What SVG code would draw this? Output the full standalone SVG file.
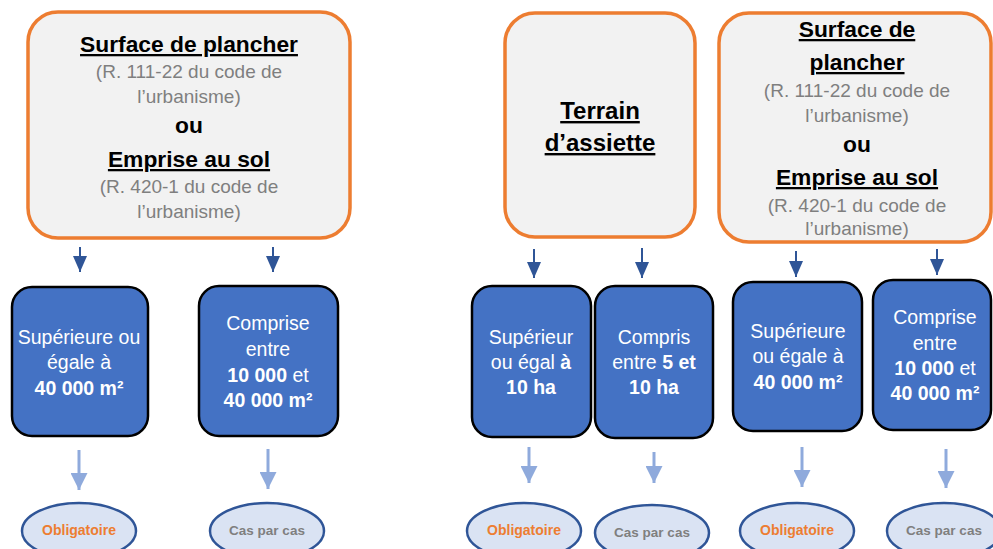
<svg xmlns="http://www.w3.org/2000/svg" width="993" height="549" viewBox="0 0 993 549">
<defs>
<style>
text{font-family:"Liberation Sans",Arial,sans-serif;text-anchor:middle}
.src{fill:#F2F2F2;stroke:#ED7D31;stroke-width:3.5}
.crit{fill:#4472C4;stroke:#000;stroke-width:2.5}
.res{fill:#DAE3F3;stroke:#2F5597;stroke-width:2.5}
.ttl{font-size:22.8px;font-weight:bold;fill:#000;text-decoration:underline}
.ou{font-size:22.8px;font-weight:bold;fill:#000}
.gry{font-size:19px;fill:#7F7F7F}
.wt{font-size:19.5px;fill:#fff}
.b{font-weight:bold}
.obl{font-size:14px;font-weight:bold;fill:#ED7D31}
.cpc{font-size:13.5px;font-weight:bold;fill:#7F7F7F}
.dk{stroke:#2F5597;stroke-width:2;fill:none}
.lt{stroke:#8FAADC;stroke-width:3;fill:none}
</style>
<marker id="ad" markerUnits="userSpaceOnUse" markerWidth="16" markerHeight="14" refX="16" refY="7" orient="auto" viewBox="0 0 16 14">
<path d="M0,0 L16,7 L0,14 Z" fill="#2F5597"/>
</marker>
<marker id="al" markerUnits="userSpaceOnUse" markerWidth="17" markerHeight="17" refX="17" refY="8.5" orient="auto" viewBox="0 0 17 17">
<path d="M0,0 L17,8.5 L0,17 Z" fill="#8FAADC"/>
</marker>
</defs>

<g id="src-left">
<rect class="src" x="28" y="12" width="322" height="226" rx="30"/>
<text class="ttl" x="189" y="52">Surface de plancher</text>
<text class="gry" x="189" y="78">(R. 111-22 du code de</text>
<text class="gry" x="189" y="103">l’urbanisme)</text>
<text class="ou" x="189" y="133">ou</text>
<text class="ttl" x="189" y="167">Emprise au sol</text>
<text class="gry" x="189" y="193">(R. 420-1 du code de</text>
<text class="gry" x="189" y="218">l’urbanisme)</text>
</g>

<g id="src-terrain">
<rect class="src" x="505" y="13" width="190" height="224" rx="30"/>
<text class="ttl" x="600" y="119" style="font-size:24px">Terrain</text>
<text class="ttl" x="600" y="151" style="font-size:24px">d’assiette</text>
</g>

<g id="src-right">
<rect class="src" x="719" y="13" width="272" height="229" rx="30"/>
<text class="ttl" x="857" y="37">Surface de</text>
<text class="ttl" x="857" y="70">plancher</text>
<text class="gry" x="857" y="97">(R. 111-22 du code de</text>
<text class="gry" x="857" y="122">l’urbanisme)</text>
<text class="ou" x="857" y="152">ou</text>
<text class="ttl" x="857" y="185">Emprise au sol</text>
<text class="gry" x="857" y="212">(R. 420-1 du code de</text>
<text class="gry" x="857" y="235">l’urbanisme)</text>
</g>

<g id="crit-1">
<rect class="crit" x="12" y="287" width="136" height="149" rx="20"/>
<text class="wt" x="79" y="344">Supérieure ou</text>
<text class="wt" x="79" y="369">égale à</text>
<text class="wt b" x="79" y="395">40 000 m²</text>
</g>

<g id="crit-2">
<rect class="crit" x="199" y="286" width="139" height="150" rx="20"/>
<text class="wt" x="268" y="330">Comprise</text>
<text class="wt" x="268" y="356">entre</text>
<text class="wt" x="268" y="382"><tspan class="b">10 000</tspan> et</text>
<text class="wt b" x="268" y="407">40 000 m²</text>
</g>

<g id="crit-3">
<rect class="crit" x="472" y="286" width="119" height="151" rx="20"/>
<text class="wt" x="531" y="344">Supérieur</text>
<text class="wt" x="531" y="369">ou égal <tspan class="b">à</tspan></text>
<text class="wt b" x="531" y="394">10 ha</text>
</g>

<g id="crit-4">
<rect class="crit" x="595" y="286" width="118" height="152" rx="20"/>
<text class="wt" x="654" y="344">Compris</text>
<text class="wt" x="654" y="369">entre <tspan class="b">5 et</tspan></text>
<text class="wt b" x="654" y="394">10 ha</text>
</g>

<g id="crit-5">
<rect class="crit" x="733" y="282" width="129" height="149" rx="20"/>
<text class="wt" x="798" y="338">Supérieure</text>
<text class="wt" x="798" y="363">ou égale à</text>
<text class="wt b" x="798" y="389">40 000 m²</text>
</g>

<g id="crit-6">
<rect class="crit" x="873" y="280" width="118" height="150" rx="20"/>
<text class="wt" x="935" y="324">Comprise</text>
<text class="wt" x="935" y="350">entre</text>
<text class="wt" x="935" y="375"><tspan class="b">10 000</tspan> et</text>
<text class="wt b" x="935" y="400">40 000 m²</text>
</g>

<g id="res-1">
<ellipse class="res" cx="79" cy="531" rx="57" ry="28"/>
<text class="obl" x="79" y="535">Obligatoire</text>
</g>
<g id="res-2">
<ellipse class="res" cx="267" cy="531" rx="57" ry="28"/>
<text class="cpc" x="267" y="535">Cas par cas</text>
</g>
<g id="res-3">
<ellipse class="res" cx="524" cy="531" rx="57" ry="28"/>
<text class="obl" x="524" y="535">Obligatoire</text>
</g>
<g id="res-4">
<ellipse class="res" cx="652" cy="533" rx="57" ry="28"/>
<text class="cpc" x="652" y="537">Cas par cas</text>
</g>
<g id="res-5">
<ellipse class="res" cx="797" cy="531" rx="57" ry="28"/>
<text class="obl" x="797" y="535">Obligatoire</text>
</g>
<g id="res-6">
<ellipse class="res" cx="944" cy="531" rx="57" ry="28"/>
<text class="cpc" x="944" y="535">Cas par cas</text>
</g>

<g id="connectors">
<line class="dk" x1="80" y1="247" x2="80" y2="272" marker-end="url(#ad)"/>
<line class="dk" x1="273" y1="247" x2="273" y2="272" marker-end="url(#ad)"/>
<line class="dk" x1="534" y1="249" x2="534" y2="278" marker-end="url(#ad)"/>
<line class="dk" x1="642" y1="248" x2="642" y2="278" marker-end="url(#ad)"/>
<line class="dk" x1="796" y1="251" x2="796" y2="277" marker-end="url(#ad)"/>
<line class="dk" x1="937" y1="249" x2="937" y2="275" marker-end="url(#ad)"/>
<line class="lt" x1="79" y1="450" x2="79" y2="490" marker-end="url(#al)"/>
<line class="lt" x1="268" y1="449" x2="268" y2="489" marker-end="url(#al)"/>
<line class="lt" x1="529" y1="447" x2="529" y2="483" marker-end="url(#al)"/>
<line class="lt" x1="654" y1="452" x2="654" y2="483" marker-end="url(#al)"/>
<line class="lt" x1="802" y1="447" x2="802" y2="487" marker-end="url(#al)"/>
<line class="lt" x1="946" y1="449" x2="946" y2="488" marker-end="url(#al)"/>
</g>
</svg>
